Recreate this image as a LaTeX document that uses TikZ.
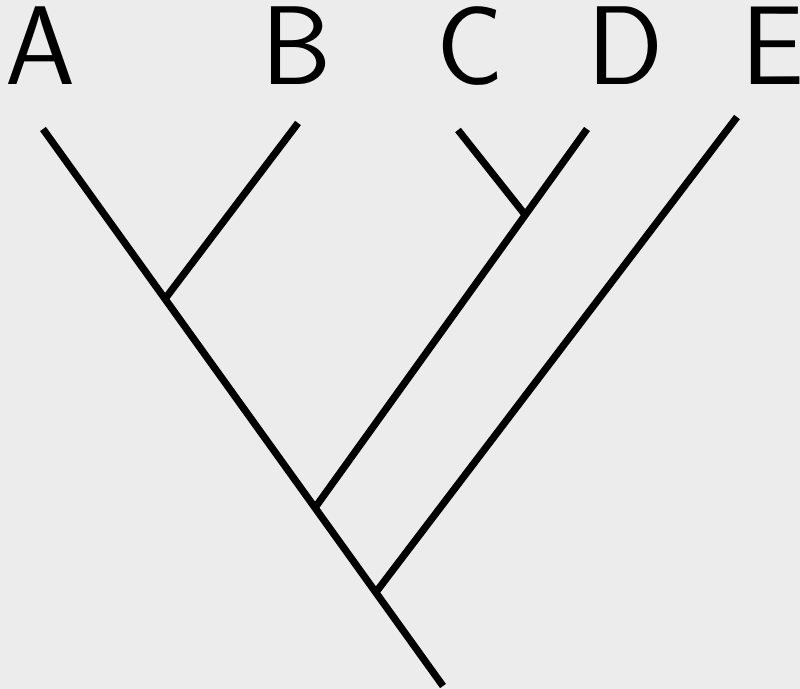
\documentclass[tikz,border=0pt]{standalone}
\usetikzlibrary{calc}
\begin{document}
\begin{tikzpicture}[x=0.75pt,y=-0.75pt,
  branch/.style={line width=5.4pt,line cap=butt,black},
  taxon/.style={anchor=base,inner sep=0pt,text height=58pt,text depth=0pt,font=\sffamily\fontsize{84}{84}\selectfont}]
\fill[gray!15] (0,0) rectangle (800,689);
\useasboundingbox (0,0) rectangle (800,689);
\node[taxon] (A) at (40,84) {A};
\node[taxon] (B) at (297,84) {B};
\node[taxon] (C) at (470,84) {C};
\node[taxon] (D) at (625,84) {D};
\node[taxon] (E) at (773,84) {E};
\coordinate (tA) at (43,129);
\coordinate (tB) at (298,123);
\coordinate (tC) at (458,130);
\coordinate (tD) at (587,129);
\coordinate (tE) at (737,117);
\coordinate (root) at (443,686);
\coordinate (jB) at ($(tA)!0.305!(root)$);
\coordinate (jD) at ($(tA)!0.68!(root)$);
\coordinate (jE) at ($(tA)!0.832!(root)$);
\coordinate (jC) at ($(tD)!0.227!(jD)$);
\draw[branch] (tA) -- (root);
\draw[branch] (tB) -- (jB);
\draw[branch] (tD) -- (jD);
\draw[branch] (tC) -- (jC);
\draw[branch] (tE) -- (jE);
\end{tikzpicture}
\end{document}
